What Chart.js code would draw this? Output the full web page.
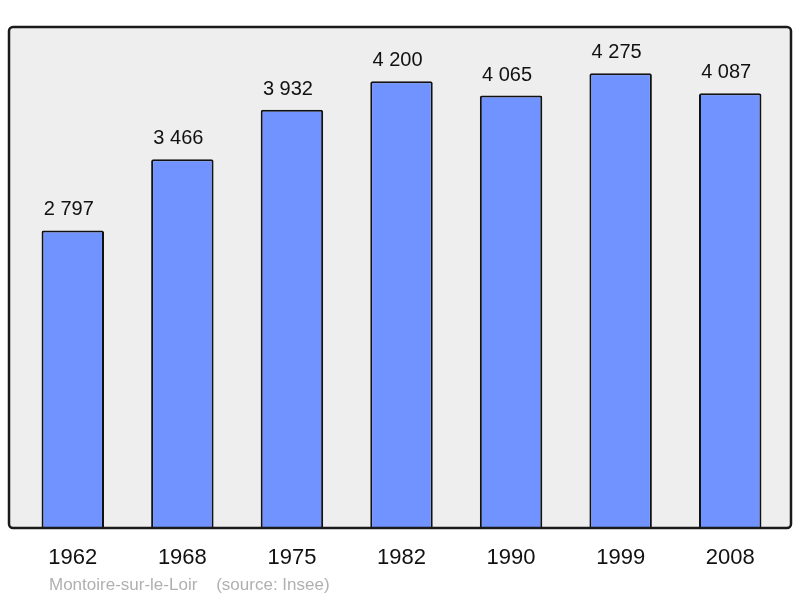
<!DOCTYPE html>
<html>
<head>
<meta charset="utf-8">
<script src="https://cdn.jsdelivr.net/npm/chart.js@4/dist/chart.umd.min.js"></script>
<style>
  html, body { margin: 0; padding: 0; background: #fff; }
  #wrap { width: 800px; height: 598px; }
</style>
</head>
<body>
<div id="wrap"><canvas id="popChart"></canvas></div>
<script>
const years = ['1962', '1968', '1975', '1982', '1990', '1999', '2008'];
const population = [2797, 3466, 3932, 4200, 4065, 4275, 4087];
const sourceText = 'Montoire-sur-le-Loir    (source: Insee)';

function fmt(n) {
  return String(n).replace(/\B(?=(\d{3})+(?!\d))/g, ' ');
}

const frame = {
  id: 'frame',
  beforeDatasetsDraw(chart) {
    const a = chart.chartArea, ctx = chart.ctx;
    ctx.save();
    ctx.beginPath();
    ctx.roundRect(a.left - 9, a.top, a.right - a.left + 15, a.bottom - a.top, 4);
    ctx.fillStyle = '#eeeeee';
    ctx.fill();
    ctx.restore();
  },
  afterDatasetsDraw(chart) {
    const a = chart.chartArea, ctx = chart.ctx;
    const meta = chart.getDatasetMeta(0);
    ctx.save();
    ctx.beginPath();
    ctx.roundRect(a.left - 9, a.top, a.right - a.left + 15, a.bottom - a.top, 4);
    ctx.lineWidth = 2.5;
    ctx.strokeStyle = '#1a1a1a';
    ctx.stroke();

    ctx.fillStyle = '#111';
    ctx.textAlign = 'center';
    ctx.textBaseline = 'alphabetic';
    ctx.font = '20px "Liberation Sans", Arial, sans-serif';
    meta.data.forEach((bar, i) => {
      ctx.fillText(fmt(population[i]), bar.x - 4, bar.y - 15);
    });

    ctx.font = '22px "Liberation Sans", Arial, sans-serif';
    const xs = chart.scales.x;
    years.forEach((y, i) => {
      ctx.fillText(y, xs.getPixelForValue(i), a.bottom + 36);
    });

    ctx.textAlign = 'left';
    ctx.fillStyle = '#b0b0b0';
    ctx.font = '17px "Liberation Sans", Arial, sans-serif';
    ctx.fillText(sourceText, a.left + 31, a.bottom + 62);
    ctx.restore();
  }
};

new Chart(document.getElementById('popChart'), {
  type: 'bar',
  data: {
    labels: years,
    datasets: [{
      data: population,
      backgroundColor: '#7093ff',
      borderColor: '#111',
      borderWidth: 2,
      borderRadius: 2,
      borderSkipped: 'bottom',
      categoryPercentage: 1,
      barPercentage: 0.57
    }]
  },
  options: {
    responsive: true,
    maintainAspectRatio: false,
    animation: false,
    layout: { padding: { left: 18, top: 27, right: 15, bottom: 70 } },
    plugins: { legend: { display: false }, tooltip: { enabled: false } },
    scales: {
      x: { display: false },
      y: { display: false, min: 0, max: 4710 }
    }
  },
  plugins: [frame]
});
</script>
</body>
</html>
